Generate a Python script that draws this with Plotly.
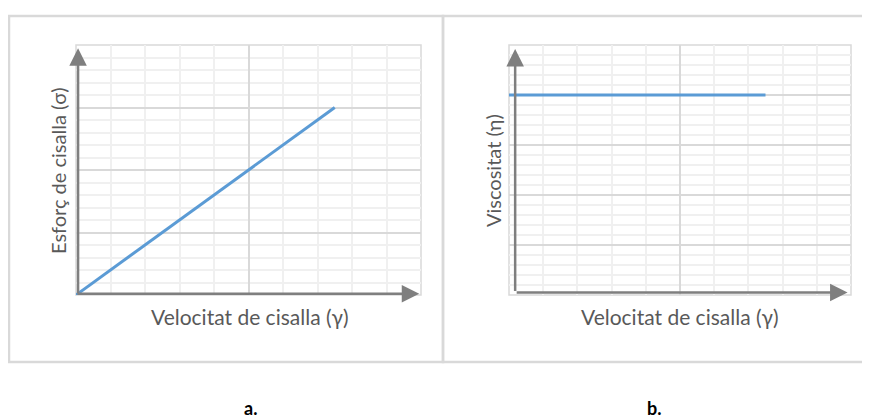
import plotly.graph_objects as go

# Data
a_x = [0, 7.5]
a_y = [0, 3]
b_x = [0, 7.5]
b_y = [4, 4]

x_title = "Velocitat de cisalla (γ)"
a_ytitle = "Esforç de cisalla (σ)"
b_ytitle = "Viscositat (η)"
panel_labels = ["a.", "b."]

# page body has an 8px margin, so the figure is offset by 8px
OFF = 8
W, H = 870 - OFF, 419 - OFF
def px(x): return (x - OFF) / W
def py(y): return 1 - (y - OFF) / H

BLUE = "#5b9bd5"
MAJ = "#d9d9d9"
MIN = "#f0f0f0"
AX = "#7f7f7f"
TXT = "#595959"
FONT = "Lato, Carlito, Calibri, sans-serif"

fig = go.Figure()
fig.add_trace(go.Scatter(x=a_x, y=a_y, mode="lines", line=dict(color=BLUE, width=3),
                         xaxis="x", yaxis="y", hoverinfo="skip", showlegend=False))
fig.add_trace(go.Scatter(x=b_x, y=b_y, mode="lines", line=dict(color=BLUE, width=3),
                         xaxis="x2", yaxis="y2", hoverinfo="skip", showlegend=False))

def xax(domain, anchor):
    return dict(domain=domain, anchor=anchor, range=[0, 10], dtick=5, showgrid=True,
                gridcolor=MAJ, gridwidth=1.5, zeroline=False, showticklabels=False,
                ticks="", showline=False, fixedrange=True,
                minor=dict(dtick=1, showgrid=True, gridcolor=MIN, gridwidth=1.5))

def yax(domain, anchor, top):
    return dict(domain=domain, anchor=anchor, range=[0, top], dtick=1, showgrid=True,
                gridcolor=MAJ, gridwidth=1.5, zeroline=False, showticklabels=False,
                ticks="", showline=False, fixedrange=True,
                minor=dict(dtick=0.2, showgrid=True, gridcolor=MIN, gridwidth=1.5))

ydom = [py(295), py(45)]
fig.update_layout(
    width=W, height=H, margin=dict(l=0, r=0, t=0, b=0),
    paper_bgcolor="white", plot_bgcolor="white",
    xaxis=xax([px(76), px(421)], "y"),
    yaxis=yax(ydom, "x", 4),
    xaxis2=xax([px(509), px(851)], "y2"),
    yaxis2=yax(ydom, "x2", 5),
    hovermode=False,
)

shapes = []
# outer panel frames
shapes.append(dict(type="rect", xref="paper", yref="paper", x0=px(9), x1=px(443), y0=py(362), y1=py(16),
                   line=dict(color="#d9d9d9", width=2.5), layer="below"))
shapes.append(dict(type="rect", xref="paper", yref="paper", x0=px(443), x1=px(880), y0=py(362), y1=py(16),
                   line=dict(color="#d9d9d9", width=2.5), layer="below"))
# plot-area borders
for xr, yr in [("x domain", "y domain"), ("x2 domain", "y2 domain")]:
    shapes.append(dict(type="rect", xref=xr, yref=yr, x0=0, x1=1, y0=0, y1=1,
                       line=dict(color=MAJ, width=1.5), layer="below"))
fig.update_layout(shapes=shapes)

ann = []
def arrow(xref, yref, x0, y0, x1, y1):
    ann.append(dict(xref=xref, yref=yref, axref=xref, ayref=yref, x=x1, y=y1, ax=x0, ay=y0,
                    text="", showarrow=True, arrowhead=2, arrowsize=1.4, arrowwidth=2.5,
                    arrowcolor=AX))
# panel a arrows
arrow("x", "y", 0.06, 0, 0.06, 3.95)
arrow("x", "y", 0, 0.02, 9.95, 0.02)
# panel b arrows
arrow("x2", "y2", 0.18, 0.05, 0.18, 4.92)
arrow("x2", "y2", 0.18, 0.05, 9.9, 0.05)

# titles
ann.append(dict(xref="paper", yref="paper", x=px(250), y=py(316), text=x_title, showarrow=False,
                font=dict(family=FONT, size=21, color=TXT), xanchor="center", yanchor="middle"))
ann.append(dict(xref="paper", yref="paper", x=px(680), y=py(316), text=x_title, showarrow=False,
                font=dict(family=FONT, size=21, color=TXT), xanchor="center", yanchor="middle"))
ann.append(dict(xref="paper", yref="paper", x=px(58), y=py(171), text=a_ytitle, showarrow=False,
                textangle=-90, font=dict(family=FONT, size=20, color=TXT), xanchor="center", yanchor="middle"))
ann.append(dict(xref="paper", yref="paper", x=px(493), y=py(171), text=b_ytitle, showarrow=False,
                textangle=-90, font=dict(family=FONT, size=20, color=TXT), xanchor="center", yanchor="middle"))
# panel labels
for lbl, xc in zip(panel_labels, [251, 654]):
    ann.append(dict(xref="paper", yref="paper", x=px(xc), y=py(408), text="<b>%s</b>" % lbl,
                    showarrow=False, font=dict(family=FONT, size=18, color="black"),
                    xanchor="center", yanchor="middle"))
fig.update_layout(annotations=ann)

fig.write_html("out.html", config={"displayModeBar": False})
